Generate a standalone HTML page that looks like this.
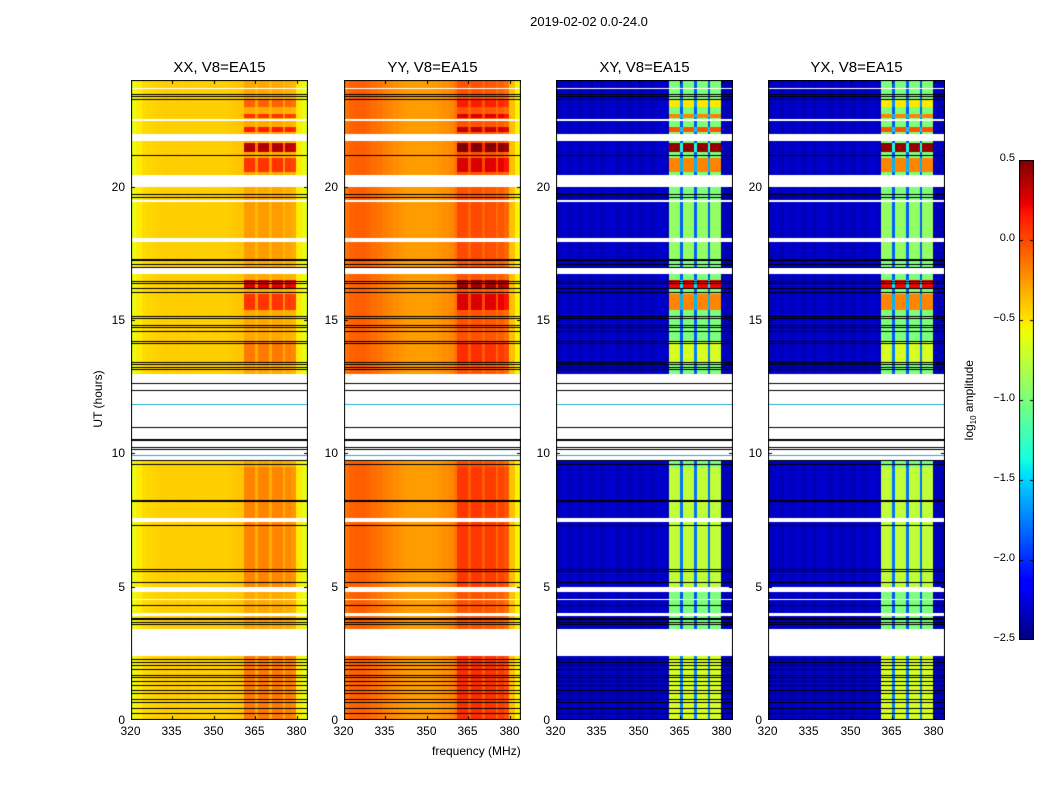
<!DOCTYPE html>
<html><head><meta charset="utf-8">
<style>
body{margin:0;background:#fff;width:1050px;height:800px;overflow:hidden;position:relative;font-family:"Liberation Sans","DejaVu Sans",sans-serif;}
.t{position:absolute;color:#000;white-space:nowrap}
canvas{position:absolute}
</style></head>
<body>
<div class="t" style="left:489px;top:14px;width:200px;text-align:center;font-size:13px">2019-02-02 0.0-24.0</div>
<div id="root"></div>
<script>
// ---- data ----
const pols = ['XX','YY','XY','YX'];
const panelLeft = [131,344,556,768];
const chanProfileXX = [-0.62,-0.52,-0.47,-0.45,-0.44,-0.43,-0.42,-0.43,-0.42,-0.43,-0.42,-0.43,-0.42,-0.43,-0.43,-0.42,-0.43,-0.42,-0.41,-0.4,-0.4,-0.4,-0.4,-0.4,-0.4,-0.4,-0.4,-0.4,-0.42,-0.45,-0.52,-0.62];
const chanProfileYY = [-0.14,-0.08,-0.07,-0.07,-0.09,-0.12,-0.14,-0.17,-0.2,-0.22,-0.24,-0.26,-0.27,-0.27,-0.27,-0.27,-0.26,-0.24,-0.22,-0.2,-0.14,-0.14,-0.14,-0.14,-0.14,-0.14,-0.16,-0.16,-0.18,-0.24,-0.38,-0.55];
const chanProfileXY = [-2.35,-2.3,-2.35,-2.3,-2.35,-2.3,-2.35,-2.3,-2.35,-2.3,-2.3,-2.35,-2.3,-2.35,-2.3,-2.35,-2.3,-2.35,-2.3,-2.3,-2.35,-2.35,-2.35,-2.35,-2.35,-2.35,-2.35,-2.35,-2.35,-2.35,-2.35,-2.35];
const bandStrips = [[41,45],[46,50],[51,55],[56,60]];
const bandBase = [0.02,0.05,1.2,1.2];
const bandAmp = [0.75,0.6,1.6,1.6];
const events = [[23.0,23.3,0.4],[22.6,22.75,0.6],[22.05,22.25,0.7],[21.3,21.65,1.0],[20.55,21.1,0.6],[17.3,19.4,0.15],[16.2,16.5,0.85],[15.4,16.0,0.6],[13.4,14.2,0.3],[5.0,9.5,0.25],[0,2.4,0.3]];
const flagged = [[23.65,23.72],[22.45,22.55],[21.7,22.0],[19.95,20.45],[19.4,19.5],[18.78,18.83],[17.9,18.1],[17.48,17.52],[16.7,16.95],[15.68,15.72],[15.38,15.42],[9.7,13.0],[8.52,8.56],[7.4,7.6],[6.96,7.0],[4.8,5.0],[4.52,4.56],[3.9,4.05],[2.4,3.45]];
const blackLines = [23.47,23.4,23.3,21.2,19.72,19.6,17.3,17.25,17.1,17.0,16.45,16.4,16.2,16.05,15.15,15.07,14.8,14.75,14.6,14.2,14.15,13.43,13.35,13.25,13.15,12.63,12.37,11.0,10.55,10.5,10.25,10.15,9.75,9.6,8.25,8.2,7.3,5.65,5.6,5.18,4.3,3.83,3.78,3.68,3.6,2.28,2.18,2.05,1.9,1.7,1.6,1.45,1.3,1.12,1.0,0.8,0.68,0.45,0.27];
const cyanLines = [11.85,9.95];
const xTicks = [320,335,350,365,380];
const yTicks = [0,5,10,15,20];
const cbTicks = [0.5,0.0,-0.5,-1.0,-1.5,-2.0,-2.5];

// ---- geometry ----
const TOP=80,H=640,W=177,FMIN=320,FMAX=384,HMAX=24,VMIN=-2.5,VMAX=0.5;
const xOf=f=>(f-FMIN)/(FMAX-FMIN)*W;
const yOf=h=>H-h/HMAX*H;
function jet(v){let t=(v-VMIN)/(VMAX-VMIN);t=Math.max(0,Math.min(1,t));
 let r=t<0.35?0:t<0.66?(t-0.35)/0.31:t<0.89?1:1-0.5*(t-0.89)/0.11;
 let g=t<0.125?0:t<0.375?(t-0.125)/0.25:t<0.64?1:t<0.91?1-(t-0.64)/0.27:0;
 let b=t<0.11?0.5+t/0.11*0.5:t<0.34?1:t<0.65?1-(t-0.34)/0.31:0;
 return `rgb(${Math.round(r*255)},${Math.round(g*255)},${Math.round(b*255)})`;}
function level(h){let l=0.1;for(const e of events){if(h>=e[0]&&h<e[1])l=e[2];}return l;}
function isFlag(h){return flagged.some(f=>h>=f[0]&&h<f[1]);}
function bandMask(c){for(const s of bandStrips){if(c>=s[0]&&c<s[1])return 1;}if(c>=41&&c<60)return 0.35;return 0;}
const root=document.getElementById('root');
const profiles=[chanProfileXX,chanProfileYY,chanProfileXY,chanProfileXY];
function txt(name,s,x,y,extra){const d=document.createElement('div');d.className='t';d.textContent=s;d.style.cssText+=`left:${x}px;top:${y}px;`+(extra||'');
 
 
 root.appendChild(d);return d;}
const DT=0.05,NCH=64;
pols.forEach((p,pi)=>{
 const L=panelLeft[pi];
 const cv=document.createElement('canvas');cv.width=W;cv.height=H;cv.style.left=L+'px';cv.style.top=TOP+'px';
 
 
 root.appendChild(cv);const ctx=cv.getContext('2d');
 for(let h=0;h<HMAX;h+=DT){ if(isFlag(h+DT/2))continue; const lv=level(h+DT/2);
  for(let c=0;c<NCH;c++){ let v=profiles[pi][Math.floor(c/2)]+bandMask(c)*(bandBase[pi]+bandAmp[pi]*lv);
   ctx.fillStyle=jet(v); const x0=xOf(FMIN+c),x1=xOf(FMIN+c+1),y0=yOf(h+DT),y1=yOf(h);
   ctx.fillRect(Math.floor(x0),Math.floor(y0),Math.ceil(x1)-Math.floor(x0),Math.ceil(y1)-Math.floor(y0));}}
 ctx.fillStyle='#000';blackLines.forEach(h=>ctx.fillRect(0,Math.round(yOf(h)),W,1));
 ctx.fillStyle='#2ad';cyanLines.forEach(h=>ctx.fillRect(0,Math.round(yOf(h)),W,1));
 ctx.strokeStyle='#000';ctx.lineWidth=1;ctx.strokeRect(0.5,0.5,W-1,H-1);
 xTicks.forEach(f=>{const x=Math.round(xOf(f))+0.5;ctx.beginPath();ctx.moveTo(x,0);ctx.lineTo(x,4);ctx.moveTo(x,H);ctx.lineTo(x,H-4);ctx.stroke();
  txt('x-tick-label',String(f),L+x-11,TOP+H+4,'font-size:12px');});
 yTicks.forEach(v=>{const y=Math.round(yOf(v))+0.5;ctx.beginPath();ctx.moveTo(0,y);ctx.lineTo(4,y);ctx.moveTo(W,y);ctx.lineTo(W-4,y);ctx.stroke();
  txt('y-tick-label',String(v),L-22,TOP+y-8,'font-size:12px;width:16px;text-align:right');});
 txt('panel-title-'+p.toLowerCase(),p+', V8=EA15',L,59,`font-size:15px;width:${W}px;text-align:center`);
});
txt('y-axis-title','UT (hours)',60,392,'font-size:12px;transform:rotate(-90deg);width:76px;text-align:center');
txt('x-axis-title','frequency (MHz)',432,744,'font-size:12px');
// colorbar
const cb=document.createElement('canvas');cb.width=15;cb.height=480;cb.style.left='1019px';cb.style.top='160px';


root.appendChild(cb);const cc=cb.getContext('2d');
for(let i=0;i<480;i++){cc.fillStyle=jet(VMAX-(i+0.5)/480*(VMAX-VMIN));cc.fillRect(0,i,15,1);}
cc.strokeStyle='#000';cc.strokeRect(0.5,0.5,14,479);
cbTicks.forEach(v=>{const y=(VMAX-v)/(VMAX-VMIN)*480;cc.beginPath();cc.moveTo(0,Math.round(y)+0.5);cc.lineTo(4,Math.round(y)+0.5);cc.moveTo(11,Math.round(y)+0.5);cc.lineTo(15,Math.round(y)+0.5);cc.stroke();
 txt('colorbar-tick-label',(v<0?'\u2212':'')+Math.abs(v).toFixed(1),975,160+y-8,'font-size:11px;width:40px;text-align:right');});
const cl=txt('colorbar-label','',910,392,'font-size:12px;transform:rotate(-90deg);width:120px;text-align:center');
cl.innerHTML='log<sub style="font-size:8px">10</sub> amplitude';
</script>
</body></html>
